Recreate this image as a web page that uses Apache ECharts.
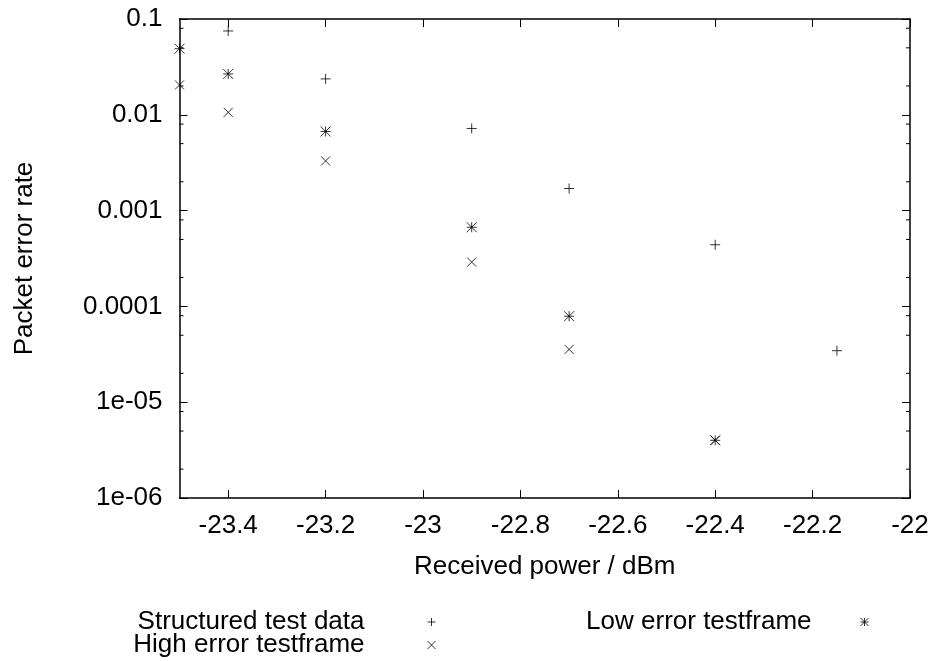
<!DOCTYPE html>
<html>
<head>
<meta charset="utf-8">
<script src="https://cdn.jsdelivr.net/npm/echarts@6/dist/echarts.min.js"></script>
<style>
  html, body { margin: 0; padding: 0; background: #fff; }
  #chart { width: 933px; height: 661px; }
</style>
</head>
<body>
<div id="chart"></div>
<script>
// Received power (dBm) vs. packet error rate for three test patterns.
const structuredPower = [-23.4, -23.2, -22.9, -22.7, -22.4, -22.15];
const structuredPER   = [0.075, 0.0237, 0.0072, 0.0017, 0.00044, 0.0000345];

const lowErrorPower = [-23.5, -23.4, -23.2, -22.9, -22.7, -22.4];
const lowErrorPER   = [0.049, 0.0267, 0.0067, 0.00067, 0.000079, 0.000004];

const highErrorPower = [-23.5, -23.4, -23.2, -22.9, -22.7, -22.4];
const highErrorPER   = [0.0205, 0.0106, 0.0033, 0.00029, 0.0000356, 0.000004];

const xTicks = [-23.4, -23.2, -23, -22.8, -22.6, -22.4, -22.2, -22];
const yTickLabels = ['1e-06', '1e-05', '0.0001', '0.001', '0.01', '0.1'];
const yMinorTicks = [
  2e-6, 5e-6, 8e-6, 2e-5, 5e-5, 8e-5, 2e-4, 5e-4, 8e-4,
  2e-3, 5e-3, 8e-3, 2e-2, 5e-2, 8e-2
];

const X_MIN = -23.5, X_MAX = -22;
const Y_MIN = 1e-6, Y_MAX = 0.1;
const FONT = 'Liberation Sans, Arial, sans-serif';
const FS = 26;

const pair = (xs, ys) => xs.map((x, i) => [x, ys[i]]);

const PLUS  = 'path://M0,5L10,5M5,0L5,10';
const CROSS = 'path://M0,0L10,10M10,0L0,10';
const STAR  = 'path://M0,5L10,5M5,0L5,10M0,0L10,10M10,0L0,10';

const markStyle = { color: 'transparent', borderColor: '#000', borderWidth: 1 };

const chart = echarts.init(document.getElementById('chart'), null, { renderer: 'canvas' });

const frameTick = { show: true, inside: true, length: 8, lineStyle: { color: '#000', width: 1 } };
const frameLine = { show: true, lineStyle: { color: '#000', width: 1.5 } };
const legendText = pad => ({ fontFamily: FONT, fontSize: FS, color: '#000', padding: [0, pad, 0, 0] });

chart.setOption({
  animation: false,
  backgroundColor: '#fff',
  textStyle: { fontFamily: FONT },
  grid: { left: 179.5, right: 23, top: 19, bottom: 163, containLabel: false },
  xAxis: [
    {
      type: 'value', min: X_MIN, max: X_MAX, position: 'bottom',
      name: 'Received power / dBm', nameLocation: 'middle', nameGap: 56,
      nameTextStyle: { fontFamily: FONT, fontSize: FS, color: '#000' },
      axisLine: frameLine,
      axisTick: Object.assign({ customValues: xTicks }, frameTick),
      axisLabel: { customValues: xTicks, fontFamily: FONT, fontSize: FS, color: '#000', margin: 15 },
      splitLine: { show: false }
    },
    {
      type: 'value', min: X_MIN, max: X_MAX, position: 'top',
      axisLine: frameLine,
      axisTick: Object.assign({ customValues: xTicks }, frameTick),
      axisLabel: { show: false },
      splitLine: { show: false }
    }
  ],
  yAxis: [
    {
      type: 'log', logBase: 10, min: Y_MIN, max: Y_MAX, position: 'left',
      name: 'Packet error rate', nameLocation: 'middle', nameGap: 142, nameRotate: 90,
      nameTextStyle: { fontFamily: FONT, fontSize: FS, color: '#000' },
      axisLine: frameLine,
      axisTick: frameTick,
      axisLabel: {
        fontFamily: FONT, fontSize: FS, color: '#000', margin: 17,
        formatter: v => yTickLabels[Math.round(Math.log10(v)) + 6]
      },
      splitLine: { show: false }
    },
    {
      type: 'log', logBase: 10, min: Y_MIN, max: Y_MAX, position: 'right',
      axisLine: frameLine,
      axisTick: frameTick,
      axisLabel: { show: false },
      splitLine: { show: false }
    }
  ],
  legend: [
    {
      data: ['Structured test data'], right: 497, top: 609, padding: 0, align: 'right',
      itemWidth: 8, itemHeight: 8, selectedMode: false, itemStyle: { borderWidth: 1 },
      textStyle: legendText(58)
    },
    {
      data: ['Low error testframe'], right: 64, top: 609, padding: 0, align: 'right',
      itemWidth: 8, itemHeight: 8, selectedMode: false, itemStyle: { borderWidth: 1 },
      textStyle: legendText(44)
    },
    {
      data: ['High error testframe'], right: 497, top: 632, padding: 0, align: 'right',
      itemWidth: 8, itemHeight: 8, selectedMode: false, itemStyle: { borderWidth: 1 },
      textStyle: legendText(58)
    }
  ],
  series: [
    {
      name: 'Structured test data', type: 'scatter',
      symbol: PLUS, symbolSize: 10, itemStyle: markStyle,
      data: pair(structuredPower, structuredPER)
    },
    {
      name: 'Low error testframe', type: 'scatter',
      symbol: STAR, symbolSize: 10, itemStyle: markStyle,
      data: pair(lowErrorPower, lowErrorPER)
    },
    {
      name: 'High error testframe', type: 'scatter',
      symbol: CROSS, symbolSize: 9, itemStyle: markStyle,
      data: pair(highErrorPower, highErrorPER)
    },
    {
      // minor log ticks (2, 5, 8 per decade) on both vertical frame edges
      name: 'minorTicks', type: 'custom', silent: true, clip: false,
      data: yMinorTicks.map(v => [v]),
      renderItem: (params, api) => {
        const v = api.value(0);
        const l = api.coord([X_MIN, v]);
        const r = api.coord([X_MAX, v]);
        const st = { stroke: '#000', lineWidth: 1 };
        return {
          type: 'group',
          children: [
            { type: 'line', shape: { x1: l[0], y1: l[1], x2: l[0] + 4, y2: l[1] }, style: st },
            { type: 'line', shape: { x1: r[0], y1: r[1], x2: r[0] - 4, y2: r[1] }, style: st }
          ]
        };
      },
      encode: { y: 0 }
    }
  ]
});
</script>
</body>
</html>
